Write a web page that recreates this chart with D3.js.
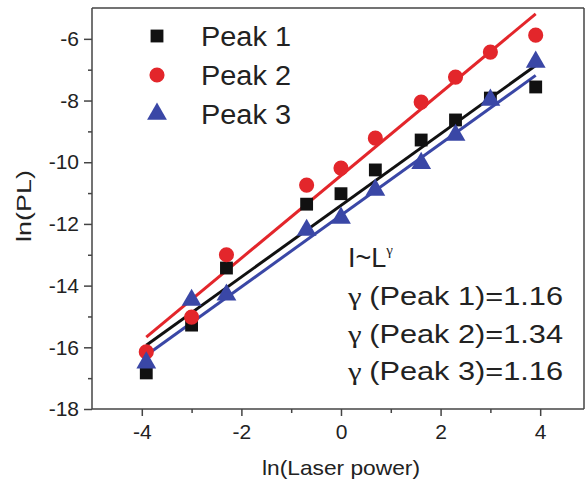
<!DOCTYPE html>
<html>
<head>
<meta charset="utf-8">
<script src="https://cdn.jsdelivr.net/npm/d3@7"></script>
<style>
  body { margin: 0; background: #fff; }
  text { font-family: "Liberation Sans", Arial, sans-serif; fill: #222; }
  .axis path, .axis line { stroke: #444; stroke-width: 1.5; }
  .axis text { font-size: 21px; fill: #222; }
</style>
</head>
<body>
<div id="chart"></div>
<script>
// excitation powers: ln of 0.02 .. 50
const lnPower = [-3.91, -3.0, -2.3, -0.69, 0, 0.69, 1.61, 2.3, 3.0, 3.91];

const peak1 = [-16.83, -15.28, -13.43, -11.36, -11.02, -10.25, -9.28, -8.63, -7.92, -7.56];
const peak2 = [-16.15, -15.02, -13.0, -10.74, -10.19, -9.22, -8.05, -7.24, -6.43, -5.88];
const peak3 = [-16.5, -14.47, -14.3, -12.2, -11.81, -10.9, -10.03, -9.12, -7.98, -6.75];

const seriesNames = ['Peak 1', 'Peak 2', 'Peak 3'];
const fitSlopes = [1.16, 1.34, 1.16];
const fitIntercepts = [-11.40, -10.43, -11.72];
const gammaLabels = ['1.16', '1.34', '1.16'];

const xTicks = [-4, -3, -2, -1, 0, 1, 2, 3, 4];
const yTicks = [-18, -17, -16, -15, -14, -13, -12, -11, -10, -9, -8, -7, -6];

const colors = ['#111111', '#e3262b', '#3a47a6'];

const width = 586,
      height = 484,
      margin = {top: 8, right: 2, bottom: 75, left: 92};

const chartWidth = width - margin.left - margin.right,
      chartHeight = height - margin.top - margin.bottom;

const svg = d3.select('#chart').append('svg')
    .attr('width', width)
    .attr('height', height);

const chart = svg.append('g')
    .attr('transform', `translate(${margin.left}, ${margin.top})`);

let x = d3.scaleLinear().domain([-5, 4.88]).range([0, chartWidth]);
let y = d3.scaleLinear().domain([-18, -5]).range([chartHeight, 0]);

const series = [peak1, peak2, peak3].map((vals, i) => ({
    name: seriesNames[i],
    color: colors[i],
    points: vals.map((v, j) => ({x: lnPower[j], y: v}))
}));

// fit lines
const xMin = d3.min(lnPower), xMax = d3.max(lnPower);
chart.append('g')
    .selectAll('.fit')
    .data(series)
    .enter().append('line')
    .attr('class', 'fit')
    .attr('x1', x(xMin))
    .attr('x2', x(xMax))
    .attr('y1', (d, i) => y(fitIntercepts[i] + fitSlopes[i] * xMin))
    .attr('y2', (d, i) => y(fitIntercepts[i] + fitSlopes[i] * xMax))
    .attr('stroke', d => d.color)
    .attr('stroke-width', 3);

// markers
const symbols = [d3.symbolSquare, d3.symbolCircle, d3.symbolTriangle];
const symbolSizes = [165, 180, 170];

series.forEach((s, i) => {
    chart.append('g')
        .selectAll('path')
        .data(s.points)
        .enter().append('path')
        .attr('transform', d => `translate(${x(d.x)}, ${y(d.y)})`)
        .attr('d', d3.symbol().type(symbols[i]).size(symbolSizes[i]))
        .attr('fill', s.color);
});

// axes
const xAxis = d3.axisBottom(x)
    .tickValues(xTicks)
    .tickSize(7)
    .tickPadding(8)
    .tickFormat(d => d % 2 === 0 ? String(d) : '');

const gx = chart.append('g')
    .attr('class', 'axis axis--x')
    .attr('transform', `translate(0, ${chartHeight})`)
    .call(xAxis);
gx.selectAll('.tick')
    .filter(d => d % 2 !== 0)
    .select('line').attr('y2', 4);

const yAxis = d3.axisLeft(y)
    .tickValues(yTicks)
    .tickSize(8)
    .tickPadding(5)
    .tickFormat(d => d % 2 === 0 ? String(d) : '');

const gy = chart.append('g')
    .attr('class', 'axis axis--y')
    .call(yAxis);
gy.selectAll('.tick')
    .filter(d => d % 2 !== 0)
    .select('line').attr('x2', -4);

gx.select('.domain').attr('d', `M0,0H${chartWidth}`);
gy.select('.domain').attr('d', `M0,0V${chartHeight}`);

// top and right frame
chart.append('line')
    .attr('x1', 0).attr('x2', chartWidth)
    .attr('y1', 0).attr('y2', 0)
    .attr('stroke', '#444').attr('stroke-width', 1.5);
chart.append('line')
    .attr('x1', chartWidth).attr('x2', chartWidth)
    .attr('y1', 0).attr('y2', chartHeight)
    .attr('stroke', '#444').attr('stroke-width', 1.5);

// axis titles (glyphs a bit wide in the original)
svg.append('text')
    .attr('x', 262)
    .attr('y', 475)
    .attr('textLength', 158)
    .attr('lengthAdjust', 'spacingAndGlyphs')
    .style('font-size', '21px')
    .text('ln(Laser power)');

svg.append('text')
    .attr('transform', `translate(31, 242) rotate(-90)`)
    .attr('textLength', 72)
    .attr('lengthAdjust', 'spacingAndGlyphs')
    .style('font-size', '21px')
    .text('ln(PL)');

// legend
const legend = chart.append('g')
    .attr('transform', 'translate(65, 28)');

const item = legend.selectAll('.legend-item')
    .data(series)
    .enter().append('g')
    .attr('class', 'legend-item')
    .attr('transform', (d, i) => `translate(0, ${i * 39})`);

item.append('path')
    .attr('d', (d, i) => d3.symbol().type(symbols[i]).size(symbolSizes[i])())
    .attr('fill', d => d.color);

item.append('text')
    .attr('x', 44)
    .attr('y', 10)
    .attr('textLength', 90)
    .attr('lengthAdjust', 'spacingAndGlyphs')
    .style('font-size', '27px')
    .text(d => d.name);

// gamma annotation
const note = svg.append('g')
    .attr('transform', 'translate(348, 0)');

const head = note.append('text')
    .attr('y', 267)
    .style('font-size', '27px');
head.append('tspan').text('I~L');
head.append('tspan')
    .attr('dy', -12)
    .style('font-size', '15px')
    .style('font-family', '"Liberation Serif", serif')
    .text('γ');

note.selectAll('.gamma')
    .data(seriesNames)
    .enter().append('text')
    .attr('class', 'gamma')
    .attr('y', (d, i) => 305 + i * 37.5)
    .attr('textLength', 215)
    .attr('lengthAdjust', 'spacingAndGlyphs')
    .style('font-size', '25px')
    .each(function(d, i) {
        const t = d3.select(this);
        t.append('tspan')
            .style('font-family', '"Liberation Serif", serif')
            .text('γ ');
        t.append('tspan').text(`(${d})=${gammaLabels[i]}`);
    });
</script>
</body>
</html>
